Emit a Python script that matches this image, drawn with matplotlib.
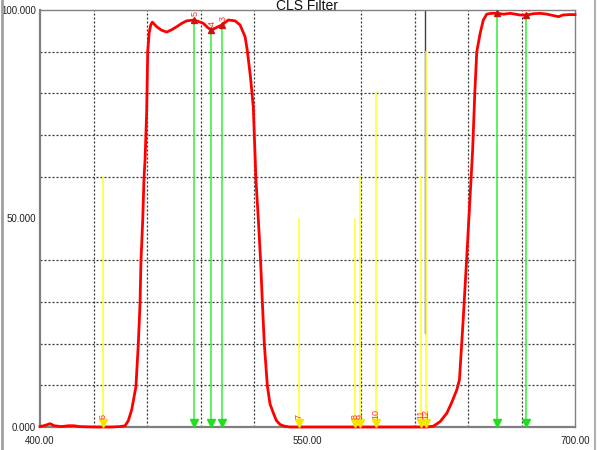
import matplotlib
matplotlib.use("Agg")
import matplotlib.pyplot as plt
import matplotlib.transforms as mtransforms
from matplotlib.lines import Line2D
import numpy as np

plt.rcParams['font.family'] = ['Liberation Sans', 'DejaVu Sans']

title = "CLS Filter"

# Transmission curve (wavelength nm, transmission %)
wavelength = [400, 403, 405.6, 408, 412, 416, 419, 422, 430, 440, 445, 447.7, 449.5,
              451.4, 453.8, 455.1, 456.1, 456.6, 457.6, 458.3, 458.9, 459.8, 460.4,
              461.2, 462.1, 463, 465.4, 468, 471, 474, 476.7, 479.5, 482.3, 486.5,
              491.6, 494, 496.1, 499, 501.9, 505.6, 509.4, 512.2, 515, 516.3, 518,
              519.6, 521.1, 522.4, 523.7, 524.7, 525.8, 527.5, 529, 530.9, 532.5,
              534.6, 537, 540, 560, 600, 616.8, 620.6, 624.4, 628.1, 631, 633.7,
              635.2, 637.2, 639.2, 641, 642.6, 643.8, 644.9, 646.8, 648.6, 650.5,
              653, 656.1, 660, 663.6, 666.5, 669.2, 673, 676.5, 680.4, 684.2, 687.5,
              690.7, 693.3, 697, 700]
transmission = [0.1, 0.4, 0.8, 0.3, 0.1, 0.3, 0.3, 0.1, 0, 0, 0.1, 0.3, 1.5,
                4.1, 9.7, 19.7, 29.7, 39.6, 49.6, 59.6, 64, 75.3, 90,
                94.5, 96.4, 97.1, 96, 95.2, 94.7, 95.3, 96, 96.8, 97.4, 97.6,
                96.8, 95.8, 95.2, 95.8, 96.4, 97.6, 97.4, 96.4, 93.6, 90.1, 84,
                76.8, 59.2, 50, 39.8, 29.8, 19.8, 9.8, 5.5, 3.3, 1.6,
                0.6, 0.2, 0, 0, 0, 0, 0.2, 1.3, 3.3, 6, 8.9,
                11.3, 25, 40, 54, 66.4, 80, 89.9, 94.4, 97.6, 99,
                99.2, 99.2, 99.0, 99.2, 99.0, 98.8, 98.8, 99.1, 99.2, 99.0, 98.7,
                98.4, 98.8, 98.9, 98.9]

# Emission lines (green, passed) with labels
green_wl = [486.5, 496.1, 501.9, 656.5, 672.7]
green_lbl = ["5", "4", "3", "1", "2"]

# Light pollution lines (yellow) with heights and labels
yellow_wl = [435.5, 545.3, 576.7, 579.5, 588.3, 613.5, 616.5]
yellow_h = [60, 50, 50, 60, 80, 60, 90]
yellow_lbl = ["6", "7", "8", "9", "10", "11", "12"]

# cursor line
cursor_wl = 616.0
cursor_range = [22.5, 100]

fig = plt.figure(figsize=(6, 4.5), dpi=100)
ax = fig.add_axes([40/600, 1-427/450, 535/600, 417/450])
ax.set_xlim(400, 700)
ax.set_ylim(0, 100)

# grid
ax.set_xticks([400, 550, 700])
ax.set_xticklabels(["400.00", "550.00", "700.00"])
ax.set_xticks(np.arange(400, 701, 30), minor=True)
ax.set_yticks([0, 50, 100])
ax.set_yticklabels(["0.000", "50.000", "100.000"])
ax.set_yticks(np.arange(0, 101, 10), minor=True)
ax.grid(which='minor', linestyle=(0, (1.6, 1.6)), color='#333333', linewidth=0.9)
ax.tick_params(which='both', length=0, labelsize=7, colors='#222222')
ax.tick_params(axis='x', pad=6.5)
ax.tick_params(axis='y', pad=3)
for s in ax.spines.values():
    s.set_color('#808080')
    s.set_linewidth(1.0)
ax.spines['left'].set_linewidth(1.6)
ax.spines['bottom'].set_linewidth(1.6)

off_up = mtransforms.ScaledTranslation(0, 2.6/72, fig.dpi_scale_trans)
tri_trans = ax.transData + off_up

# cursor
ax.plot([cursor_wl, cursor_wl], cursor_range, color='#404040', lw=1.0, zorder=2)

# yellow lines
for w, h, l in zip(yellow_wl, yellow_h, yellow_lbl):
    ax.plot([w, w], [0, h], color='#ffff22', lw=1.1, zorder=2)
    ax.plot([w], [0], marker='v', color='#f5e600', markersize=6, transform=tri_trans,
            clip_on=False, zorder=4)
    ax.annotate(l, (w, 0), xytext=(0, 6), textcoords='offset points', rotation=90,
                ha='center', va='bottom', fontsize=6.5, color='#ff3030', zorder=5)

# red curve
ax.plot(wavelength, transmission, color='#ff0000', lw=2.0, zorder=3, clip_on=False,
        solid_joinstyle='round')

# green lines
tvals = np.interp(green_wl, wavelength, transmission)
for w, t, l in zip(green_wl, tvals, green_lbl):
    ax.plot([w, w], [0, t], color='#33ee33', lw=1.1, zorder=2)
    ax.plot([w], [0], marker='v', color='#22dd22', markersize=6, transform=tri_trans,
            clip_on=False, zorder=4)
    ax.plot([w], [t], marker='^', color='#cc1111', markersize=4.5, zorder=4)
    ax.annotate(l, (w, t), xytext=(1, 3), textcoords='offset points', rotation=90,
                ha='center', va='bottom', fontsize=6.5, color='#ff3030', zorder=5,
                annotation_clip=False, clip_on=True)

fig.text(307.5/600, 1-10.5/450, title, ha='center', va='baseline', fontsize=10,
         color='#111111')

# outer frame lines
fig.add_artist(Line2D([1.5/600, 1.5/600], [0, 1], color='#a0a0a0', lw=2,
                      transform=fig.transFigure))
fig.add_artist(Line2D([595/600, 595/600], [0, 1], color='#b0b0b0', lw=1.5,
                      transform=fig.transFigure))

fig.savefig("out.png", dpi=100)
